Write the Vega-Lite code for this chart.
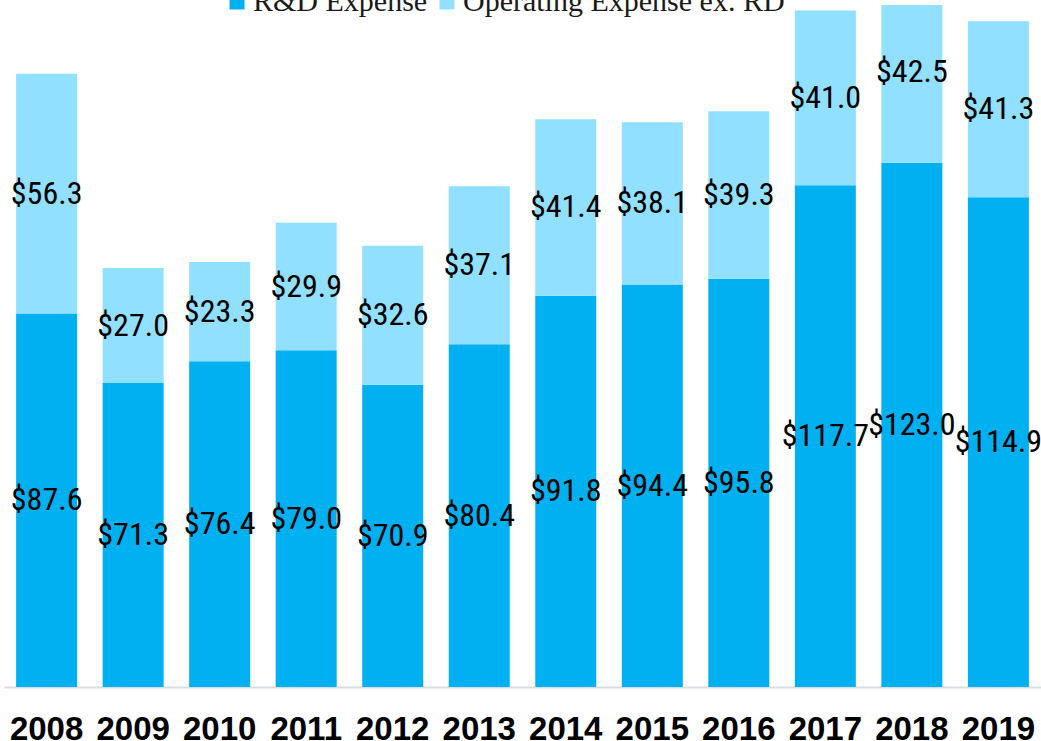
{
  "$schema": "https://vega.github.io/schema/vega-lite/v6.json",
  "width": 1037,
  "height": 682,
  "autosize": {"type": "none"},
  "padding": {"left": 4, "top": 5, "right": 0, "bottom": 54},
  "background": "white",
  "config": {"view": {"stroke": null}},
  "data": {
    "values": [
      {"year": "2008", "series": "R&D Expense", "value": 87.6},
      {"year": "2008", "series": "Operating Expense ex. RD", "value": 56.3},
      {"year": "2009", "series": "R&D Expense", "value": 71.3},
      {"year": "2009", "series": "Operating Expense ex. RD", "value": 27.0},
      {"year": "2010", "series": "R&D Expense", "value": 76.4},
      {"year": "2010", "series": "Operating Expense ex. RD", "value": 23.3},
      {"year": "2011", "series": "R&D Expense", "value": 79.0},
      {"year": "2011", "series": "Operating Expense ex. RD", "value": 29.9},
      {"year": "2012", "series": "R&D Expense", "value": 70.9},
      {"year": "2012", "series": "Operating Expense ex. RD", "value": 32.6},
      {"year": "2013", "series": "R&D Expense", "value": 80.4},
      {"year": "2013", "series": "Operating Expense ex. RD", "value": 37.1},
      {"year": "2014", "series": "R&D Expense", "value": 91.8},
      {"year": "2014", "series": "Operating Expense ex. RD", "value": 41.4},
      {"year": "2015", "series": "R&D Expense", "value": 94.4},
      {"year": "2015", "series": "Operating Expense ex. RD", "value": 38.1},
      {"year": "2016", "series": "R&D Expense", "value": 95.8},
      {"year": "2016", "series": "Operating Expense ex. RD", "value": 39.3},
      {"year": "2017", "series": "R&D Expense", "value": 117.7},
      {"year": "2017", "series": "Operating Expense ex. RD", "value": 41.0},
      {"year": "2018", "series": "R&D Expense", "value": 123.0},
      {"year": "2018", "series": "Operating Expense ex. RD", "value": 42.5},
      {"year": "2019", "series": "R&D Expense", "value": 114.9},
      {"year": "2019", "series": "Operating Expense ex. RD", "value": 41.3}
    ]
  },
  "encoding": {
    "x": {
      "field": "year",
      "type": "ordinal",
      "scale": {"paddingInner": 0.295, "paddingOuter": 0.14},
      "axis": {
        "title": null,
        "labelAngle": 0,
        "labelFont": "Liberation Sans",
        "labelFontWeight": "bold",
        "labelFontSize": 33,
        "labelColor": "black",
        "labelPadding": 26,
        "labelBaseline": "top",
        "ticks": false,
        "tickSize": 0,
        "domainColor": "#d9dde3",
        "domainWidth": 2,
        "grid": false
      }
    }
  },
  "layer": [
    {
      "mark": {"type": "bar", "clip": true},
      "encoding": {
        "y": {
          "field": "value",
          "type": "quantitative",
          "scale": {"domain": [0, 160], "nice": false},
          "axis": null
        },
        "color": {
          "field": "series",
          "type": "nominal",
          "scale": {
            "domain": ["R&D Expense", "Operating Expense ex. RD"],
            "range": ["#00B0F0", "#91E0FF"]
          },
          "legend": {
            "title": null,
            "orient": "none",
            "legendX": 218,
            "legendY": -18,
            "direction": "horizontal",
            "symbolType": "square",
            "symbolSize": 225,
            "symbolStrokeWidth": 0,
            "labelFont": "Liberation Serif",
            "labelFontSize": 30,
            "labelColor": "#1a1a1a",
            "labelOffset": 1,
            "columnPadding": 4,
            "padding": 0,
            "labelLimit": 0
          }
        },
        "order": {"field": "series", "sort": "descending"}
      }
    },
    {
      "transform": [
        {"stack": "value", "groupby": ["year"], "sort": [{"field": "series", "order": "descending"}], "as": ["v0", "v1"]},
        {"fold": ["v0", "v1"], "as": ["edge", "pos"]},
        {"aggregate": [{"op": "mean", "field": "pos", "as": "mid"}], "groupby": ["year", "series", "value"]}
      ],
      "mark": {
        "type": "text",
        "font": "Roboto Condensed, Liberation Sans Narrow, Liberation Sans, sans-serif",
        "fontSize": 32,
        "color": "black",
        "baseline": "middle"
      },
      "encoding": {
        "y": {"field": "mid", "type": "quantitative", "scale": {"domain": [0, 160], "nice": false}},
        "text": {"field": "value", "type": "quantitative", "format": "$.1f"}
      }
    }
  ]
}
